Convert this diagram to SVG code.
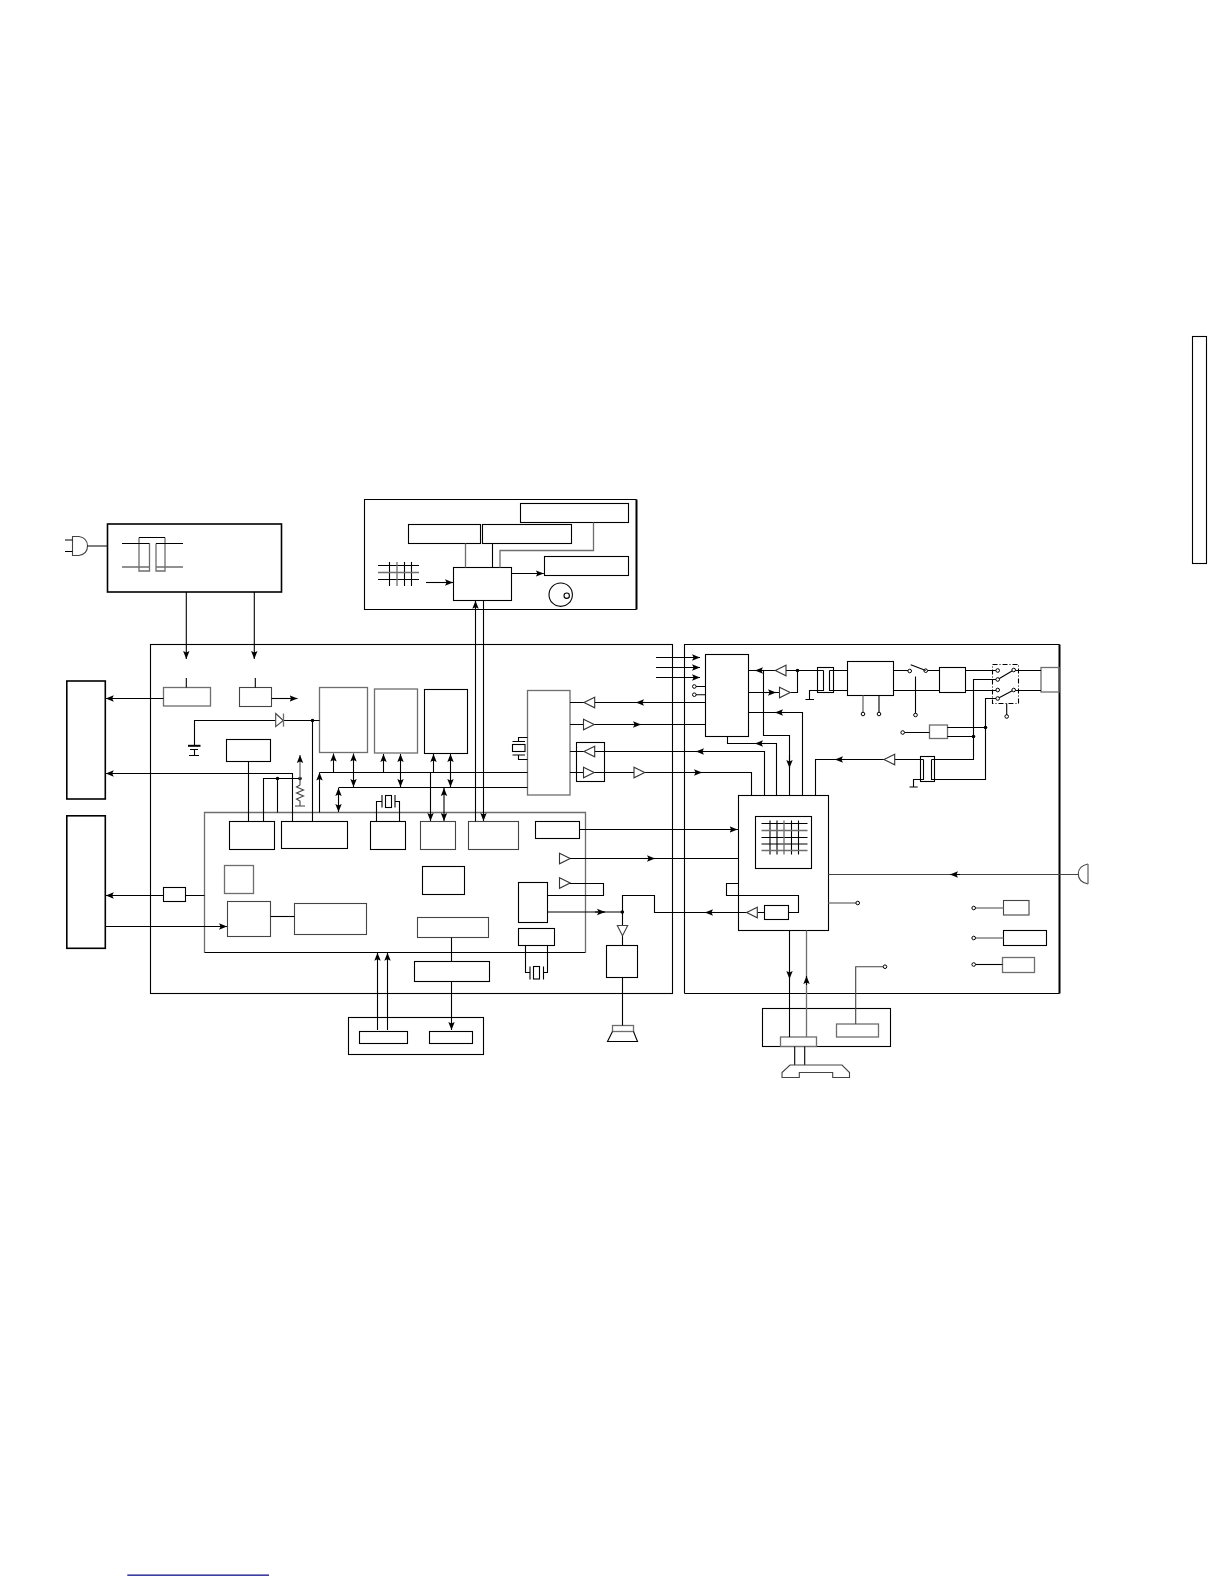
<svg xmlns="http://www.w3.org/2000/svg" width="1224" height="1584" viewBox="0 0 1224 1584">
<style>
rect,path,polygon,circle,polyline{fill:none;stroke:#000;stroke-width:1.1}
.g,.g *{stroke:#6e6e6e;stroke-width:1.3}
.k{stroke:#444}
.t{stroke-width:2}
.th{stroke-width:1.6}
.a{marker-end:url(#ah)}
.d{marker-start:url(#ah);marker-end:url(#ah)}
.dot{fill:#000;stroke:none}
.o{fill:#fff;stroke-width:1}
</style>
<defs>
<marker id="ah" markerUnits="userSpaceOnUse" markerWidth="10" markerHeight="8" refX="8" refY="4" orient="auto-start-reverse"><path d="M0 .8L8 4L0 7.2L1.6 4z" style="fill:#000;stroke:none"/></marker>
<g id="tri"><polygon points="0,-5.3 10.7,0 0,5.300" style="fill:#fff;stroke:#333"/></g>
</defs>
<rect id="side-box" x="1192.500" y="336.500" width="14" height="227"/>
<g id="panel-main"><rect x="150.500" y="644.500" width="522" height="349"/></g>
<g id="panel-right"><path d="M684.500 993.500V644.500H1059.500"/><path class="t" d="M1059.500 644.500V993.500"/><path d="M684.500 993.500H1059.500"/></g>
<g id="power"><rect class="th" x="107.500" y="524" width="174" height="68"/>
<path class="g" d="M122 567H149.500M156 567H183M149.500 543.500V571H139V537.500M156 543.500V571H165V537.500"/>
<path d="M139 537.500H165M122 543.500H149.500M156 543.500H183"/></g>
<g id="plug"><path d="M72.500 536.500H79Q87.500 538 87.500 546Q87.500 554 79 555.500H72.500Z" class="k"/><path d="M65 540H72.500M65 551.500H72.500M87.500 546H107.500"/></g>
<g id="box-left1"><rect class="th" x="66.800" y="681" width="38.500" height="118"/></g>
<g id="box-left2"><rect class="th" x="66.800" y="815.800" width="38.500" height="132.500"/></g>
<g id="reg1"><rect class="g" x="163.500" y="687.500" width="47" height="18.500"/></g>
<g id="reg2"><rect class="k" x="239.500" y="687.500" width="32" height="19"/></g>
<g id="mem1"><rect class="g" x="319.500" y="687.500" width="48" height="65"/></g>
<g id="mem2"><rect class="g" x="374.500" y="689" width="43" height="64"/></g>
<g id="mem3"><rect x="424.500" y="689.500" width="43" height="64"/></g>
<g id="batt-reg"><rect x="226.500" y="739.500" width="44" height="22"/></g>
<g id="chip"><path class="g" d="M204.500 952.500V812.500H585.500V952.500"/><path d="M204.500 952.500H585.500"/></g>
<g id="c1"><rect x="229.500" y="821.500" width="45" height="28"/></g>
<g id="c2"><rect x="281.500" y="821.500" width="66" height="27"/></g>
<g id="c3"><rect x="370.500" y="821.500" width="35" height="28"/></g>
<g id="c4"><rect class="k" x="420.500" y="821.500" width="35" height="28"/></g>
<g id="c5"><rect class="k" x="468.500" y="821.500" width="50" height="28"/></g>
<g id="c6"><rect x="535.500" y="821.500" width="44" height="17"/></g>
<g id="c7"><rect class="g" x="224.500" y="865.500" width="29" height="28"/></g>
<g id="c8"><rect x="422.500" y="866.500" width="42" height="28"/></g>
<g id="c9"><rect class="k" x="227.500" y="901.500" width="43" height="35"/></g>
<g id="c10"><rect class="k" x="294.500" y="903.500" width="72" height="31"/></g>
<g id="c11"><rect class="k" x="417.500" y="917.500" width="71" height="20"/></g>
<g id="c12"><rect x="518.500" y="882.500" width="29" height="40"/></g>
<g id="c13"><rect x="518.500" y="928.500" width="36" height="17"/></g>
<g id="ext-driver"><rect x="414.500" y="961.500" width="75" height="20"/></g>
<g id="bottom-box"><rect x="348.500" y="1017.500" width="135" height="37"/><rect x="359.500" y="1031.500" width="48" height="12"/><rect x="429.500" y="1031.500" width="43" height="12"/></g>
<g id="amp"><rect x="606.500" y="945.500" width="31" height="32"/></g>
<g id="speaker"><rect class="g" x="612.500" y="1025.500" width="21" height="6"/><path d="M612.500 1031.500L607.500 1041.500H637.500L633.500 1031.500"/></g>
<g id="top-panel"><path d="M636.500 499.500H364.500V609.500H636.500"/><path class="t" d="M636.500 499.500V609.500"/>
<rect x="520.500" y="503.500" width="108" height="19"/><rect x="408.500" y="524.500" width="72" height="19"/><rect x="482.500" y="524.500" width="89" height="19"/><rect x="544.500" y="556.500" width="84" height="19"/><rect x="453.500" y="567.500" width="58" height="33"/>
<path d="M378 565.500H419M378 579.500H419M389.500 562V586M404.500 562V586M411.500 562V586"/><path class="g" d="M397 562V586M378 572.500H419"/>
<circle cx="560.700" cy="594.700" r="11.700"/><circle cx="566.700" cy="595.700" r="2.700"/></g>
<g id="modem"><rect class="g" x="527.500" y="690.500" width="42.500" height="104.500"/></g>
<g id="buffer"><rect x="576.500" y="742.500" width="28" height="39"/></g>
<g id="xtal-modem"><rect x="512.500" y="744.500" width="12.500" height="7"/><path d="M512.500 741.500H525M512.500 755H525M518.500 741.500V737.500H527.500M518.500 755V759.500H527.500"/></g>
<g id="xtal-c3"><rect x="385.500" y="795.500" width="6" height="12"/><path d="M382 795V807.500M395 795V807.500M376.500 821.500V801.500H382M399.500 821.500V801.500H395"/></g>
<g id="xtal-c13"><rect x="533.500" y="966.500" width="6" height="12.500"/><path d="M530 966.500V979.500M543.500 966.500V979.500M525.500 945.500V972.500H530M547.500 945.500V972.500H543.500"/></g>
<g id="ctrl"><rect x="705.500" y="654.500" width="43" height="82"/></g>
<g id="xfmr1"><rect x="817.500" y="667.500" width="16" height="25"/><path d="M823.500 670.500V690.500H817.500M823.500 670.500H817.500M829.500 670.500V690.500H833.500M829.500 670.500H833.500"/></g>
<g id="bridge"><rect x="847.500" y="661.500" width="46" height="34"/></g>
<g id="hook"><rect x="939.500" y="667.500" width="26" height="25"/></g>
<g id="relay"><rect x="992.500" y="664.500" width="26" height="39" style="stroke-dasharray:5 2 1 2"/></g>
<g id="jack"><rect class="g" x="1041" y="667.500" width="18" height="24.500"/></g>
<g id="varistor"><rect class="g" x="929.500" y="725" width="18" height="13.500"/></g>
<g id="xfmr2"><rect x="920.500" y="756.500" width="14" height="25"/><path d="M923.500 759.500V779.500H920.500M923.500 759.500H920.500M931.500 759.500V779.500H934.500M931.500 759.500H934.500"/></g>
<g id="ic-right"><rect x="738.500" y="795.500" width="90" height="135"/><rect x="755.500" y="816.500" width="56" height="52"/>
<path d="M761.500 823.500H807.500M761.500 837.500H807.500M761.500 844H807.500M770 820.500V854.500M777 820.500V854.500M791.500 820.500V854.500M798.500 820.500V854.500"/><path class="g" d="M761.500 830.500H807.500M761.500 850.500H807.500M784 820.500V854.500"/>
<rect x="764.500" y="905.500" width="24" height="14"/></g>
<g id="r-a"><rect class="k" x="1003.500" y="900.500" width="25.500" height="14.500"/></g>
<g id="r-b"><rect x="1003.500" y="930.500" width="43" height="15"/></g>
<g id="r-c"><rect class="g" x="1002.500" y="957.500" width="32" height="15"/></g>
<g id="handset-box"><rect x="762.500" y="1008.500" width="128" height="38"/><rect class="g" x="780.500" y="1037" width="36" height="9.500"/><rect class="g" x="836.500" y="1024" width="42" height="13"/></g>
<g id="handset"><path d="M794.700 1046.500V1065M804.700 1046.500V1065"/><path class="k" d="M782 1077.500V1072.500L790 1065H842L849.500 1072.500V1077.500H832.700V1072.500H799.300V1077.500Z"/></g>
<g id="mic"><path d="M1088 864Q1078.300 866 1078.300 874Q1078.300 882 1088 884" class="k"/><path class="g" d="M1088 864V884"/></g>
<rect id="blue-rule" x="127.300" y="1574.500" width="141.700" height="1.300" style="fill:#10108c;stroke:none"/>
<g id="connectors">
<path class="a" d="M186.300 592V659"/><path class="a" d="M254.300 592V659"/>
<path d="M186.300 678V687.500M255.300 678V687.500"/>
<path class="a" d="M163.500 698.500H105.800"/><path class="a" d="M271.500 698.500H297.500"/>
<path d="M194.500 745.500V720.500H275.500M283.500 720.500H319.500M312.500 720.500V821.500"/>
<polygon class="k" points="275.700,713.500 283.300,720.500 275.700,726.700"/><path class="g" d="M283.500 713.500V726.700"/>
<path class="t" d="M188 745.800H200.500"/><path d="M190 749.500H198M194.500 749.500V755.500M189 755.500H199"/>
<circle class="dot" cx="312.500" cy="720.500" r="1.800"/>
<path d="M248.500 761.500V821.500"/>
<path class="a" d="M292.500 821.500V773.500H105.800"/>
<path d="M263.500 821.500V778.500H300M277.500 778.500V812.500"/>
<circle class="dot" cx="277.500" cy="778.500" r="1.800"/><circle class="dot" cx="300" cy="778.500" r="1.800"/>
<path class="g a" d="M300 778.500V755"/>
<path class="k" d="M300 778.500L300 785L296.500 787L303.500 790L296.500 793L303.500 796L296.500 799L300 801V806M295 806H305"/>
<path class="a" d="M319.500 812.500V772.500"/><path d="M319.500 772.500H527.500"/>
<path d="M338.500 787.500H527.500"/>
<path class="d" d="M338.500 788V812"/>
<path class="a" d="M333.500 772.500V753.500"/><path class="d" d="M353.500 787V753.500"/>
<path class="a" d="M383.500 772.500V754"/><path class="d" d="M400.500 787V754"/>
<path class="a" d="M433.500 772.500V754"/><path class="d" d="M450.500 787V754"/>
<path class="a" d="M430.500 772.500V821"/><path class="d" d="M444 788V821"/>
<path class="a" d="M475.500 821.500V600.800"/><path class="a" d="M483.500 600.500V821"/>
<path d="M465.500 543.500V567.500" class="g"/><path d="M492.500 543.500V567.500"/><path class="g" d="M500 567.500V550.500H593.500V522.500"/>
<path class="a" d="M511.500 573.500H543.800"/><path class="a" d="M426 582.500H453"/>
<path d="M579.700 829.500H738"/><path class="a" d="M700 829.500H737.500"/>
<use href="#tri" x="559.500" y="858.500"/><use href="#tri" x="559.500" y="883"/>
<path d="M570 858.500H738.500"/><path class="a" d="M645 858.500H655"/>
<path d="M570 883.500H603.500V895.500H547.700"/>
<path d="M270.700 916.500H294.500"/>
<path class="a" d="M105.500 926.500H227"/>
<path class="a" d="M204.500 895.500H105.800"/>
<rect x="163.500" y="887.500" width="22" height="14" style="fill:#fff"/>
<path d="M547.700 912H622.500V895.500H654.500V912.500H746.700"/><path class="a" d="M595 912H605"/><path class="a" d="M715 912.500H705"/>
<circle class="dot" cx="622.300" cy="912" r="1.800"/>
<path d="M622.500 912V925.500M622.500 935.500V945.500M622.500 977.500V1025.500"/>
<polygon class="k" points="617.300,925.500 627.700,925.500 622.500,935.700"/>
<path d="M451.500 937.500V961.500"/><path class="a" d="M451.500 981.500V1030"/>
<path class="a" d="M377.500 1030V952.800"/><path class="a" d="M387.500 1030V952.800"/>
<path d="M594.700 702.500H705.500M570 702.500H584"/><use href="#tri" transform="translate(594.700 702.500) scale(-1 1)"/><path class="a" d="M645 702.500H636"/>
<path d="M570 724.500H705.500"/><use href="#tri" x="583.500" y="724.500"/><path class="a" d="M632 724.500H641"/>
<path d="M570 751.500H764.500V795"/><use href="#tri" transform="translate(594.700 751.500) scale(-1 1)"/><path class="a" d="M705 751.500H696"/>
<path d="M570 772.500H751.500V795"/><use href="#tri" x="583.500" y="772.500"/><use href="#tri" x="634" y="772.500"/><path class="a" d="M693 772.500H702"/>
<path class="a" d="M656 657.500H700"/><path class="a" d="M656 667.500H700"/><path class="a" d="M656 677.500H700"/>
<path d="M694.300 686.500H705.500M694.300 694.700H705.500"/><circle class="o" cx="694.300" cy="686.500" r="1.800"/><circle class="o" cx="694.300" cy="694.700" r="1.800"/>
<path d="M748.700 670.500H775M786 670.500H817.500M797.500 670.500V692.500H790.500M748.700 692.500H779.500"/>
<use href="#tri" transform="translate(786 670.500) scale(-1 1)"/><use href="#tri" x="779.500" y="692.500"/>
<circle class="dot" cx="797.500" cy="670.500" r="1.800"/>
<path class="a" d="M765 670.500H755"/><path class="a" d="M765 692.500H776"/>
<path d="M763.500 670.500V735.500H789.500V795"/><path class="a" d="M789.500 755V768"/>
<path d="M748.700 712.500H802.500V795"/><path class="a" d="M785 712.500H775"/>
<path d="M727.500 736.500V743.500H776.500V795"/><path class="a" d="M765 743.500H755"/>
<path d="M815.500 795V759.500H884M894.700 759.500H920.500"/><use href="#tri" transform="translate(894.700 759.500) scale(-1 1)"/><path class="a" d="M845 759.500H835"/>
<path d="M817.500 690.500H809.500V699.500M805.500 699.500H814"/>
<path d="M833.500 670.500H847.500M833.500 690.500H847.500"/>
<path class="g" d="M863 695.500V714"/><path d="M879 695.500V714"/><circle class="o" cx="863" cy="714" r="1.800"/><circle class="o" cx="879" cy="714" r="1.800"/>
<path d="M893.500 670.500H908M927.500 670.500H939.500M893.500 690.500H939.500"/>
<circle class="o" cx="909.700" cy="671" r="1.800"/><circle class="o" cx="925.700" cy="670.700" r="1.800"/>
<path d="M910.700 664.700L925.700 670.500M915.500 676.500V715"/><circle class="o" cx="915.500" cy="715" r="1.800"/>
<path d="M965.700 670.500H996M965.700 690.500H996M1015.500 670.500H1041M1015.500 690.500H1041"/>
<path d="M997.700 679.500L1013.700 670M997.700 698.500L1013.700 690"/>
<circle class="o" cx="997.700" cy="670.500" r="1.800"/><circle class="o" cx="997.700" cy="679.500" r="1.800"/><circle class="o" cx="997.700" cy="690" r="1.800"/><circle class="o" cx="997.700" cy="698.500" r="1.800"/><circle class="o" cx="1013.700" cy="670" r="1.800"/><circle class="o" cx="1013.700" cy="690" r="1.800"/>
<path d="M996 679.500H973.500V759.500H934.500M996 698.500H985.500V779.500H934.500"/>
<path d="M947.300 727.500H985.500M947.300 736.500H973.500M904.500 732.500H929.500"/><circle class="o" cx="902.700" cy="732.500" r="1.800"/>
<circle class="dot" cx="985.500" cy="727.500" r="1.800"/><circle class="dot" cx="973.500" cy="736.500" r="1.800"/>
<path d="M1006.700 703.500V716"/><circle class="o" cx="1006.700" cy="716.500" r="1.800"/>
<path d="M920.500 779.500H913.500V787M909.500 787H917.700"/>
<path class="k" d="M828.300 874.500H1078.300"/><path class="a" d="M960 874.500H950"/>
<path class="g" d="M828.300 903H856"/><circle class="o" cx="857.700" cy="903" r="1.800"/>
<path d="M738.500 883.500H726.500V895.500H798.500V912.500H788.700M757.300 912.500H764.700"/><use href="#tri" transform="translate(757.300 912.500) scale(-1 1)"/>
<path d="M789.500 930.500V1037"/><path class="a" d="M789.500 970V979"/>
<path class="g" d="M806.500 930.500V1037"/><path class="a" d="M806.500 985V976"/>
<path class="k" d="M855.700 1024V966.700H883"/><circle class="o" cx="885" cy="966.700" r="1.800"/>
<path class="g" d="M975.500 908H1003.500"/><circle class="o" cx="973.700" cy="908" r="1.800"/>
<path class="g" d="M975.500 938H1003.500"/><circle class="o" cx="973.700" cy="938" r="1.800"/>
<path d="M975.500 964.500H1002.500"/><circle class="o" cx="973.700" cy="964.500" r="1.800"/>
</g>
</svg>
